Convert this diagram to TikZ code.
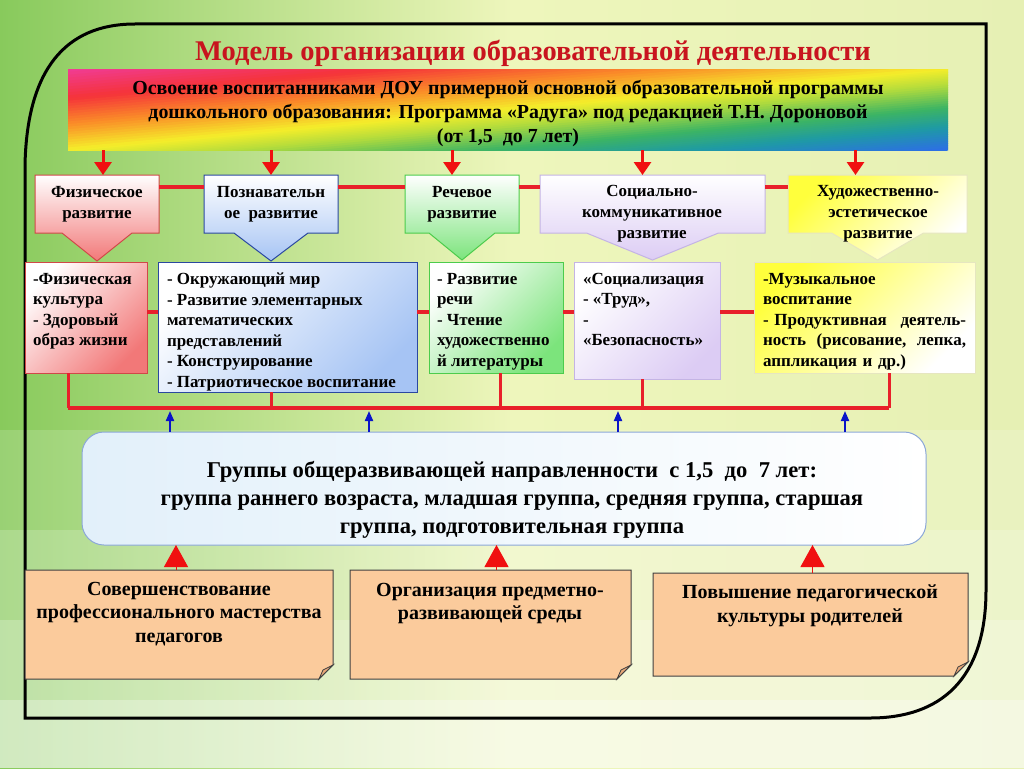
\documentclass[tikz,border=0pt]{standalone}
\usepackage{fontspec}
\setmainfont{Liberation Serif}
\usetikzlibrary{arrows.meta,calc}
\pgfdeclarelayer{bg}
\pgfdeclarelayer{background}
\pgfsetlayers{bg,background,main}
\definecolor{bgA}{HTML}{88CA5C}
\definecolor{bgC}{HTML}{EEF6BC}
\definecolor{bgE}{HTML}{E6F0B4}
\definecolor{lineRed}{HTML}{E8202A}
\definecolor{arrRed}{HTML}{F01010}
\definecolor{arrBlue}{HTML}{0A14C8}
\definecolor{titleRed}{HTML}{C8141E}
\definecolor{peach}{HTML}{FBCB9C}
\definecolor{peachDark}{HTML}{E8A878}
\definecolor{peachBorder}{HTML}{404040}
\definecolor{grpBorder}{HTML}{8CA8D8}
\definecolor{grpTint}{HTML}{E2F0FA}
\definecolor{physB}{HTML}{D04848}
\definecolor{physF}{HTML}{F27878}
\definecolor{cogB}{HTML}{2A48A0}
\definecolor{cogF}{HTML}{A6C4F4}
\definecolor{spB}{HTML}{4CCC4C}
\definecolor{spF}{HTML}{7CE47C}
\definecolor{socB}{HTML}{C4B4E4}
\definecolor{socF}{HTML}{DCCCF4}
\definecolor{artB}{HTML}{E6E6C0}
\definecolor{artF}{HTML}{FFFF3C}
\definecolor{rbPink}{HTML}{F03C96}
\definecolor{rbRed}{HTML}{F5333A}
\definecolor{rbOrange}{HTML}{FA8C28}
\definecolor{rbYellow}{HTML}{F5EE2A}
\definecolor{rbYG}{HTML}{B4DC3C}
\definecolor{rbGreen}{HTML}{3CB464}
\definecolor{rbTeal}{HTML}{1E9AA5}
\definecolor{rbBlue}{HTML}{2D6EE6}
\newcommand\calloutshape[4]{%
  \path[#4] (#1.north west) -- (#1.north east) -- (#1.south east) -- ($(#1.south)+(#2,0)$) -- ($(#1.south)+(0,#3)$) -- ($(#1.south)+(-#2,0)$) -- (#1.south west) -- cycle;}
\newcommand\foldshape[1]{%
  \fill[peach, draw=peachBorder, line width=1pt] (#1.north west) -- (#1.north east) -- ($(#1.south east)+(0,-14)$) -- ($(#1.south east)+(-14,0)$) -- (#1.south west) -- cycle;
  \fill[peachDark, draw=peachBorder, line width=0.8pt] ($(#1.south east)+(0,-14)$) -- ($(#1.south east)+(-14,0)$) -- ($(#1.south east)+(-10,-9)$) -- cycle;}
\newcommand\fullline[1]{\leavevmode\hbox to\linewidth{#1}}
\begin{document}
\begin{tikzpicture}[x=1pt,y=-1pt,
  every node/.style={inner sep=0pt, outer sep=0pt},
  redline/.style={draw=lineRed, line width=3.5pt},
  redarrow/.style={draw=arrRed, line width=3pt, -{Triangle[length=13pt,width=17pt]}},
  bluearrow/.style={draw=arrBlue, line width=2pt, -{Triangle[length=10pt,width=8pt]}},
  uptri/.style={draw=arrRed, line width=1pt, -{Triangle[length=22pt,width=24pt]}},
  emptybox/.style={anchor=north west},
  toptext/.style={align=center, font=\bfseries\fontsize{17}{21}\selectfont},
  listtext/.style={align=left, anchor=north west, font=\bfseries\fontsize{17}{20.5}\selectfont},
  listbox/.style={anchor=north west, line width=1pt},
  bottext/.style={align=center, anchor=north, font=\bfseries\fontsize{20}{23.5}\selectfont},
]
\useasboundingbox (0,0) rectangle (1024,768);
\begin{pgfonlayer}{bg}
  \shade[left color=bgA, right color=bgE, middle color=bgC] (0,0) rectangle (1024,768);
  \fill[white, opacity=0.15] (0,430) rectangle (1024,768);
  \fill[white, opacity=0.18] (0,530) rectangle (1024,768);
  \fill[white, opacity=0.22] (0,620) rectangle (1024,768);
  \fill[white, opacity=0.3] (0,700) rectangle (1024,768);
  \draw[line width=3pt] (25,165) .. controls (27,70) and (65,24) .. (135,24) -- (986,24) -- (986,590) .. controls (986,680) and (940,718) .. (870,718) -- (25,718) -- cycle;
\end{pgfonlayer}

% title
\node[font=\bfseries\fontsize{28.5}{30}\selectfont, text=titleRed] (title) at (533,53) {Модель организации образовательной деятельности};

% banner
\node[minimum width=880pt, minimum height=81pt] (banner) at (508,109.5) {};
\begin{pgfonlayer}{background}
\begin{scope}
\clip (banner.north west) rectangle (banner.south east);
\foreach \ca/\cb/\ta/\tb in {rbPink/rbRed/0/0.18,rbRed/rbOrange/0.18/0.34,rbOrange/rbYellow/0.34/0.5,rbYellow/rbYG/0.5/0.6,rbYG/rbGreen/0.6/0.74,rbGreen/rbTeal/0.74/0.86,rbTeal/rbBlue/0.86/1.0}{
  \foreach \j in {0,...,9}{
    \pgfmathsetmacro\ts{\ta+(\tb-\ta)*\j/10}
    \pgfmathsetmacro\te{\ta+(\tb-\ta)*(\j+1)/10+0.004}
    \pgfmathtruncatemacro\p{\j*10+5}
    \fill[\cb!\p!\ca] ({68+880*(2*\ts+1)},-12) -- ({68+880*(2*\te+1)},-12) -- ({68+880*(2*\te-2)},231) -- ({68+880*(2*\ts-2)},231) -- cycle;
  }
}
\end{scope}
\end{pgfonlayer}
\node[align=center, font=\bfseries\fontsize{19.9}{24}\selectfont] (bantxt) at (508,113) {Освоение воспитанниками ДОУ примерной основной образовательной программы\\дошкольного образования: Программа «Радуга» под редакцией Т.Н. Дороновой\\(от 1,5\enspace до 7 лет)};

% top row boxes
\node[emptybox, minimum width=124pt, minimum height=58pt] (phys) at (35,175) {};
\node[emptybox, minimum width=134pt, minimum height=58pt] (cog) at (204,175) {};
\node[emptybox, minimum width=114pt, minimum height=58pt] (speech) at (405,175) {};
\node[emptybox, minimum width=225pt, minimum height=58pt] (soc) at (540,175) {};
\node[emptybox, minimum width=179pt, minimum height=58pt] (art) at (788,175) {};
\begin{pgfonlayer}{background}
  \calloutshape{phys}{35}{28}{draw=physB, line width=1pt, top color=white, bottom color=physF}
  \calloutshape{cog}{37}{28}{draw=cogB, line width=1pt, top color=white, bottom color=cogF}
  \calloutshape{speech}{33}{27}{draw=spB, line width=1pt, top color=white, bottom color=spF}
  \calloutshape{soc}{66}{27}{draw=socB, line width=1pt, top color=white, bottom color=socF}
  \calloutshape{art}{46}{27}{draw=artB, line width=1pt, top color=artF, bottom color=white, shading angle=45}
\end{pgfonlayer}
\node[toptext] (physT) at (97,204) {Физическое\\развитие};
\node[toptext] (cogT) at (271,204) {Познавательн\\ое\enspace развитие};
\node[toptext] (speechT) at (462,204) {Речевое\\развитие};
\node[toptext] (socT) at (652,214) {Социально-\\коммуникативное\\развитие};
\node[toptext] (artT) at (878,214) {Художественно-\\эстетическое\\развитие};

% arrows from banner
\draw[redarrow] ([xshift=6pt]phys.north |- banner.south) -- ([xshift=6pt]phys.north);
\draw[redarrow] (cog.north |- banner.south) -- (cog.north);
\draw[redarrow] ([xshift=-10pt]speech.north |- banner.south) -- ([xshift=-10pt]speech.north);
\draw[redarrow] ([xshift=-10pt]soc.north |- banner.south) -- ([xshift=-10pt]soc.north);
\draw[redarrow] ([xshift=-22pt]art.north |- banner.south) -- ([xshift=-22pt]art.north);

% row 1 connectors
\coordinate (r1) at (0,187);
\draw[redline] (phys.east |- r1) -- (cog.west |- r1);
\draw[redline] (cog.east |- r1) -- (speech.west |- r1);
\draw[redline] (speech.east |- r1) -- (soc.west |- r1);
\draw[redline] (soc.east |- r1) -- (art.west |- r1);

% row 2 boxes
\node[listbox, minimum width=122pt, minimum height=111pt, draw=physB, top color=white, bottom color=physF, shading angle=45] (phy2) at (25,262) {};
\node[listbox, minimum width=259pt, minimum height=130pt, draw=cogB, top color=white, bottom color=cogF, shading angle=45] (cog2) at (158,262) {};
\node[listbox, minimum width=134pt, minimum height=111pt, draw=spB, top color=white, bottom color=spF, shading angle=45] (sp2) at (429,262) {};
\node[listbox, minimum width=146pt, minimum height=117pt, draw=socB, top color=white, bottom color=socF, shading angle=45] (soc2) at (574,262) {};
\node[listbox, minimum width=221pt, minimum height=111pt, draw=artB, top color=artF, bottom color=white, shading angle=45] (art2) at (754,262) {};
\node[listtext] (phy2T) at (33,273) {-Физическая\\культура\\- Здоровый\\образ жизни};
\node[listtext] (cog2T) at (167,273) {- Окружающий мир\\- Развитие элементарных\\математических\\представлений\\- Конструирование\\- Патриотическое воспитание};
\node[listtext] (sp2T) at (437,273) {- Развитие\\речи\\- Чтение\\художественно\\й литературы};
\node[listtext] (soc2T) at (583,273) {«Социализация\\- «Труд»,\\-\\«Безопасность»};
\node[listtext, text width=203pt] (art2T) at (763,273) {-Музыкальное\\воспитание\\\fullline{- Продуктивная\hfill деятель-}\\\fullline{ность\hfill (рисование,\hfill лепка,}\\аппликация и др.)};

% row 2 connectors
\coordinate (r2) at (0,312);
\draw[redline] (phy2.east |- r2) -- (cog2.west |- r2);
\draw[redline] (cog2.east |- r2) -- (sp2.west |- r2);
\draw[redline] (sp2.east |- r2) -- (soc2.west |- r2);
\draw[redline] (soc2.east |- r2) -- (art2.west |- r2);

% bus
\coordinate (busL) at (68,408);
\coordinate (v2) at (271,408);
\coordinate (v3) at (500,408);
\coordinate (v4) at (642,408);
\coordinate (busR) at (889,408);
\draw[redline, line width=4pt] (busL) -- (busR);
\draw[redline, line width=3pt] (busL |- phy2.south) -- (busL);
\draw[redline, line width=3pt] (v2 |- cog2.south) -- (v2);
\draw[redline, line width=3pt] (v3 |- sp2.south) -- (v3);
\draw[redline, line width=3pt] (v4 |- soc2.south) -- (v4);
\draw[redline, line width=3pt] (busR |- art2.south) -- (busR);

% groups box
\node[draw=grpBorder, left color=grpTint, right color=white, line width=1pt, rounded corners=22pt, minimum width=844pt, minimum height=113pt] (grp) at (504,488.5) {};
\node[align=center, font=\bfseries\fontsize{22.6}{28}\selectfont] (grpT) at (512,500) {Группы общеразвивающей направленности\enspace с 1,5\enspace до\enspace 7 лет:\\группа раннего возраста, младшая группа, средняя группа, старшая\\группа, подготовительная группа};

% blue arrows
\coordinate (u1) at (170,411);
\coordinate (u2) at (369,411);
\coordinate (u3) at (618,411);
\coordinate (u4) at (845,411);
\draw[bluearrow] (u1 |- grp.north) -- (u1);
\draw[bluearrow] (u2 |- grp.north) -- (u2);
\draw[bluearrow] (u3 |- grp.north) -- (u3);
\draw[bluearrow] (u4 |- grp.north) -- (u4);

% bottom boxes
\node[emptybox, minimum width=308pt, minimum height=109pt] (bx1) at (25,570) {};
\node[emptybox, minimum width=281pt, minimum height=109pt] (bx2) at (350,570) {};
\node[emptybox, minimum width=315pt, minimum height=103pt] (bx3) at (653,573) {};
\begin{pgfonlayer}{background}
  \foldshape{bx1}
  \foldshape{bx2}
  \foldshape{bx3}
\end{pgfonlayer}
\node[bottext] (bx1T) at (179,582) {Совершенствование\\профессионального мастерства\\педагогов};
\node[bottext] (bx2T) at (490,583) {Организация предметно-\\развивающей среды};
\node[bottext] (bx3T) at (810,585) {Повышение педагогической\\культуры родителей};

\draw[uptri] ([xshift=-3pt]bx1.north) -- ([xshift=-3pt]bx1.north |- grp.south);
\draw[uptri] ([xshift=6pt]bx2.north) -- ([xshift=6pt]bx2.north |- grp.south);
\draw[uptri] ([xshift=2pt]bx3.north) -- ([xshift=2pt]bx3.north |- grp.south);
\end{tikzpicture}
\end{document}
